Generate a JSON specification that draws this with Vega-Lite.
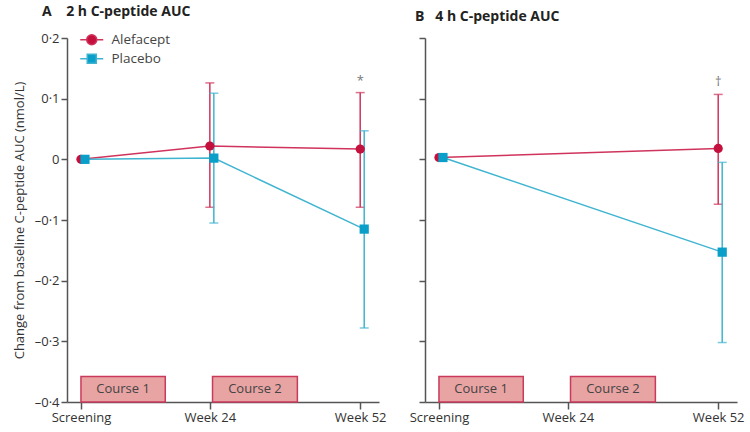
{
  "$schema": "https://vega.github.io/schema/vega-lite/v6.json",
  "padding": {"left": 13, "top": 5, "right": 5, "bottom": 5},
  "config": {
    "font": "Open Sans",
    "view": {"stroke": null},
    "axis": {
      "domainColor": "#555", "tickColor": "#555", "domainWidth": 1.5, "tickWidth": 1.5,
      "labelColor": "#333", "labelFontSize": 13, "labelFont": "Open Sans",
      "titleFontSize": 13, "titleFontWeight": "normal", "titleColor": "#333", "titleFont": "Open Sans",
      "grid": false
    },
    "concat": {"spacing": 22}
  },
  "datasets": {
    "pts": [
      {"panel": "A", "group": "Alefacept", "week": 0, "mean": 0, "lo": null, "hi": null, "note": null},
      {"panel": "A", "group": "Alefacept", "week": 24, "mean": 0.022, "lo": -0.079, "hi": 0.126, "note": null},
      {"panel": "A", "group": "Alefacept", "week": 52, "mean": 0.017, "lo": -0.079, "hi": 0.110, "note": "*"},
      {"panel": "A", "group": "Placebo", "week": 0, "mean": 0, "lo": null, "hi": null, "note": null},
      {"panel": "A", "group": "Placebo", "week": 24, "mean": 0.002, "lo": -0.105, "hi": 0.109, "note": null},
      {"panel": "A", "group": "Placebo", "week": 52, "mean": -0.115, "lo": -0.278, "hi": 0.047, "note": null},
      {"panel": "B", "group": "Alefacept", "week": 0, "mean": 0.003, "lo": null, "hi": null, "note": null},
      {"panel": "B", "group": "Alefacept", "week": 52, "mean": 0.018, "lo": -0.074, "hi": 0.107, "note": "†"},
      {"panel": "B", "group": "Placebo", "week": 0, "mean": 0.003, "lo": null, "hi": null, "note": null},
      {"panel": "B", "group": "Placebo", "week": 52, "mean": -0.153, "lo": -0.302, "hi": -0.005, "note": null}
    ],
    "courses": [
      {"panel": "A", "course": "Course 1", "start": 0, "end": 15.7, "mid": 7.85},
      {"panel": "A", "course": "Course 2", "start": 24.5, "end": 40.3, "mid": 32.4},
      {"panel": "B", "course": "Course 1", "start": 0, "end": 15.7, "mid": 7.85},
      {"panel": "B", "course": "Course 2", "start": 24.5, "end": 40.3, "mid": 32.4}
    ]
  },
  "hconcat": [
    {
      "width": 312, "height": 364,
      "title": {"text": "A\u00a0\u00a0\u00a0\u00a02 h C-peptide AUC", "anchor": "start", "frame": "group", "dx": -25, "fontSize": 14, "fontWeight": "bold", "color": "#222", "offset": 13, "font": "Open Sans"},
      "data": {"name": "pts"},
      "layer": [
        {
          "data": {"name": "courses"},
          "transform": [{"filter": "datum.panel === 'A'"}],
          "mark": {"type": "rect", "fill": "#e8a3a3", "stroke": "#c93a5c", "strokeWidth": 1.5},
          "encoding": {
            "x": {"field": "start", "type": "quantitative", "title": null, "scale": {"domain": [-2.6, 55.5], "nice": false, "zero": false}, "axis": {"values": [0, 24, 52], "labelExpr": "datum.value == 0 ? 'Screening' : 'Week ' + datum.value", "tickSize": 7, "labelPadding": 2}},
            "x2": {"field": "end"},
            "y": {"datum": -0.4, "type": "quantitative", "title": "Change from baseline C-peptide AUC (nmol/L)", "scale": {"domain": [-0.4, 0.2], "nice": false, "zero": false}, "axis": {"values": [-0.4, -0.3, -0.2, -0.1, 0, 0.1, 0.2], "labelExpr": "datum.value == 0 ? '0' : (datum.value < 0 ? '–' : '') + replace(format(abs(datum.value), '.1f'), '.', '·')", "tickSize": 6, "titlePadding": 8}},
            "y2": {"datum": -0.358}
          }
        },
        {
          "data": {"name": "courses"},
          "transform": [{"filter": "datum.panel === 'A'"}],
          "mark": {"type": "text", "fontSize": 13, "color": "#444", "font": "Open Sans"},
          "encoding": {
            "x": {"field": "mid", "type": "quantitative", "title": null},
            "y": {"datum": -0.379, "type": "quantitative", "title": "Change from baseline C-peptide AUC (nmol/L)"},
            "text": {"field": "course"}
          }
        },
        {
          "transform": [{"filter": "datum.panel === 'A' && datum.group === 'Alefacept' && isValid(datum.lo)"}],
          "mark": {"type": "rule", "color": "#d0345c", "strokeWidth": 1.5},
          "encoding": {
            "x": {"field": "week", "type": "quantitative", "title": null},
            "y": {"field": "lo", "type": "quantitative", "title": "Change from baseline C-peptide AUC (nmol/L)"},
            "y2": {"field": "hi"}
          }
        },
        {
          "transform": [{"filter": "datum.panel === 'A' && datum.group === 'Alefacept' && isValid(datum.lo)"}],
          "mark": {"type": "tick", "orient": "horizontal", "size": 9, "thickness": 1.5, "color": "#d0345c"},
          "encoding": {
            "x": {"field": "week", "type": "quantitative", "title": null},
            "y": {"field": "lo", "type": "quantitative", "title": "Change from baseline C-peptide AUC (nmol/L)"}
          }
        },
        {
          "transform": [{"filter": "datum.panel === 'A' && datum.group === 'Alefacept' && isValid(datum.lo)"}],
          "mark": {"type": "tick", "orient": "horizontal", "size": 9, "thickness": 1.5, "color": "#d0345c"},
          "encoding": {
            "x": {"field": "week", "type": "quantitative", "title": null},
            "y": {"field": "hi", "type": "quantitative", "title": "Change from baseline C-peptide AUC (nmol/L)"}
          }
        },
        {
          "transform": [{"filter": "datum.panel === 'A' && datum.group === 'Placebo' && isValid(datum.lo)"}],
          "mark": {"type": "rule", "color": "#3fb4d0", "strokeWidth": 1.5, "xOffset": 4},
          "encoding": {
            "x": {"field": "week", "type": "quantitative", "title": null},
            "y": {"field": "lo", "type": "quantitative", "title": "Change from baseline C-peptide AUC (nmol/L)"},
            "y2": {"field": "hi"}
          }
        },
        {
          "transform": [{"filter": "datum.panel === 'A' && datum.group === 'Placebo' && isValid(datum.lo)"}],
          "mark": {"type": "tick", "orient": "horizontal", "size": 9, "thickness": 1.5, "color": "#3fb4d0", "xOffset": 4},
          "encoding": {
            "x": {"field": "week", "type": "quantitative", "title": null},
            "y": {"field": "lo", "type": "quantitative", "title": "Change from baseline C-peptide AUC (nmol/L)"}
          }
        },
        {
          "transform": [{"filter": "datum.panel === 'A' && datum.group === 'Placebo' && isValid(datum.lo)"}],
          "mark": {"type": "tick", "orient": "horizontal", "size": 9, "thickness": 1.5, "color": "#3fb4d0", "xOffset": 4},
          "encoding": {
            "x": {"field": "week", "type": "quantitative", "title": null},
            "y": {"field": "hi", "type": "quantitative", "title": "Change from baseline C-peptide AUC (nmol/L)"}
          }
        },
        {
          "transform": [{"filter": "datum.panel === 'A' && datum.group === 'Alefacept'"}],
          "mark": {"type": "line", "strokeWidth": 1.5},
          "encoding": {
            "x": {"field": "week", "type": "quantitative", "title": null},
            "y": {"field": "mean", "type": "quantitative", "title": "Change from baseline C-peptide AUC (nmol/L)"},
            "color": {
              "datum": "Alefacept", "type": "nominal",
              "scale": {"domain": ["Alefacept", "Placebo"], "range": ["#d0345c", "#3fb4d0"]},
              "legend": {
                "title": null, "orient": "none", "legendX": 18, "legendY": -5,
                "labelFontSize": 13.5, "labelColor": "#444", "labelFont": "Open Sans",
                "symbolSize": 100, "rowPadding": 3, "labelOffset": 13, "symbolStrokeWidth": 1.5,
                "encode": {"symbols": {"update": {
                  "shape": {"signal": "datum.value === 'Alefacept' ? 'M-2.3,0L-1,0M1,0L2.3,0M1,0A1,1,0,1,1,-1,0A1,1,0,1,1,1,0Z' : 'M-2.3,0L-0.9,0M0.9,0L2.3,0M-0.9,-0.9H0.9V0.9H-0.9Z'"},
                  "fill": {"signal": "datum.value === 'Alefacept' ? '#c4103c' : '#0a9fc8'"},
                  "fillOpacity": {"value": 1},
                  "opacity": {"value": 1}
                }}}
              }
            }
          }
        },
        {
          "transform": [{"filter": "datum.panel === 'A' && datum.group === 'Placebo'"}],
          "mark": {"type": "line", "strokeWidth": 1.5, "xOffset": 4},
          "encoding": {
            "x": {"field": "week", "type": "quantitative", "title": null},
            "y": {"field": "mean", "type": "quantitative", "title": "Change from baseline C-peptide AUC (nmol/L)"},
            "color": {"datum": "Placebo", "type": "nominal"}
          }
        },
        {
          "transform": [{"filter": "datum.panel === 'A' && datum.group === 'Alefacept'"}],
          "mark": {"type": "point", "shape": "circle", "filled": true, "size": 85, "color": "#c4103c", "opacity": 1},
          "encoding": {
            "x": {"field": "week", "type": "quantitative", "title": null},
            "y": {"field": "mean", "type": "quantitative", "title": "Change from baseline C-peptide AUC (nmol/L)"}
          }
        },
        {
          "transform": [{"filter": "datum.panel === 'A' && datum.group === 'Placebo'"}],
          "mark": {"type": "point", "shape": "square", "filled": true, "size": 85, "color": "#0a9fc8", "opacity": 1, "xOffset": 4},
          "encoding": {
            "x": {"field": "week", "type": "quantitative", "title": null},
            "y": {"field": "mean", "type": "quantitative", "title": "Change from baseline C-peptide AUC (nmol/L)"}
          }
        },
        {
          "transform": [{"filter": "datum.panel === 'A' && isValid(datum.note)"}],
          "mark": {"type": "text", "dy": -12, "fontSize": 13, "color": "#777", "font": "Open Sans"},
          "encoding": {
            "x": {"field": "week", "type": "quantitative", "title": null},
            "y": {"field": "hi", "type": "quantitative", "title": "Change from baseline C-peptide AUC (nmol/L)"},
            "text": {"field": "note"}
          }
        }
      ]
    },
    {
      "width": 312, "height": 364,
      "title": {"text": "B\u00a0\u00a0\u00a04 h C-peptide AUC", "anchor": "start", "frame": "group", "dx": -10, "fontSize": 14, "fontWeight": "bold", "color": "#222", "offset": 13, "font": "Open Sans"},
      "data": {"name": "pts"},
      "layer": [
        {
          "data": {"name": "courses"},
          "transform": [{"filter": "datum.panel === 'B'"}],
          "mark": {"type": "rect", "fill": "#e8a3a3", "stroke": "#c93a5c", "strokeWidth": 1.5},
          "encoding": {
            "x": {"field": "start", "type": "quantitative", "title": null, "scale": {"domain": [-2.6, 55.5], "nice": false, "zero": false}, "axis": {"values": [0, 24, 52], "labelExpr": "datum.value == 0 ? 'Screening' : 'Week ' + datum.value", "tickSize": 7, "labelPadding": 2}},
            "x2": {"field": "end"},
            "y": {"datum": -0.4, "type": "quantitative", "title": null, "scale": {"domain": [-0.4, 0.2], "nice": false, "zero": false}, "axis": {"values": [-0.4, -0.3, -0.2, -0.1, 0, 0.1, 0.2], "labels": false, "tickSize": 6}},
            "y2": {"datum": -0.358}
          }
        },
        {
          "data": {"name": "courses"},
          "transform": [{"filter": "datum.panel === 'B'"}],
          "mark": {"type": "text", "fontSize": 13, "color": "#444", "font": "Open Sans"},
          "encoding": {
            "x": {"field": "mid", "type": "quantitative", "title": null},
            "y": {"datum": -0.379, "type": "quantitative", "title": null},
            "text": {"field": "course"}
          }
        },
        {
          "transform": [{"filter": "datum.panel === 'B' && datum.group === 'Alefacept' && isValid(datum.lo)"}],
          "mark": {"type": "rule", "color": "#d0345c", "strokeWidth": 1.5},
          "encoding": {
            "x": {"field": "week", "type": "quantitative", "title": null},
            "y": {"field": "lo", "type": "quantitative", "title": null},
            "y2": {"field": "hi"}
          }
        },
        {
          "transform": [{"filter": "datum.panel === 'B' && datum.group === 'Alefacept' && isValid(datum.lo)"}],
          "mark": {"type": "tick", "orient": "horizontal", "size": 9, "thickness": 1.5, "color": "#d0345c"},
          "encoding": {
            "x": {"field": "week", "type": "quantitative", "title": null},
            "y": {"field": "lo", "type": "quantitative", "title": null}
          }
        },
        {
          "transform": [{"filter": "datum.panel === 'B' && datum.group === 'Alefacept' && isValid(datum.lo)"}],
          "mark": {"type": "tick", "orient": "horizontal", "size": 9, "thickness": 1.5, "color": "#d0345c"},
          "encoding": {
            "x": {"field": "week", "type": "quantitative", "title": null},
            "y": {"field": "hi", "type": "quantitative", "title": null}
          }
        },
        {
          "transform": [{"filter": "datum.panel === 'B' && datum.group === 'Placebo' && isValid(datum.lo)"}],
          "mark": {"type": "rule", "color": "#3fb4d0", "strokeWidth": 1.5, "xOffset": 4},
          "encoding": {
            "x": {"field": "week", "type": "quantitative", "title": null},
            "y": {"field": "lo", "type": "quantitative", "title": null},
            "y2": {"field": "hi"}
          }
        },
        {
          "transform": [{"filter": "datum.panel === 'B' && datum.group === 'Placebo' && isValid(datum.lo)"}],
          "mark": {"type": "tick", "orient": "horizontal", "size": 9, "thickness": 1.5, "color": "#3fb4d0", "xOffset": 4},
          "encoding": {
            "x": {"field": "week", "type": "quantitative", "title": null},
            "y": {"field": "lo", "type": "quantitative", "title": null}
          }
        },
        {
          "transform": [{"filter": "datum.panel === 'B' && datum.group === 'Placebo' && isValid(datum.lo)"}],
          "mark": {"type": "tick", "orient": "horizontal", "size": 9, "thickness": 1.5, "color": "#3fb4d0", "xOffset": 4},
          "encoding": {
            "x": {"field": "week", "type": "quantitative", "title": null},
            "y": {"field": "hi", "type": "quantitative", "title": null}
          }
        },
        {
          "transform": [{"filter": "datum.panel === 'B' && datum.group === 'Alefacept'"}],
          "mark": {"type": "line", "strokeWidth": 1.5},
          "encoding": {
            "x": {"field": "week", "type": "quantitative", "title": null},
            "y": {"field": "mean", "type": "quantitative", "title": null},
            "color": {"datum": "Alefacept", "type": "nominal"}
          }
        },
        {
          "transform": [{"filter": "datum.panel === 'B' && datum.group === 'Placebo'"}],
          "mark": {"type": "line", "strokeWidth": 1.5, "xOffset": 4},
          "encoding": {
            "x": {"field": "week", "type": "quantitative", "title": null},
            "y": {"field": "mean", "type": "quantitative", "title": null},
            "color": {"datum": "Placebo", "type": "nominal"}
          }
        },
        {
          "transform": [{"filter": "datum.panel === 'B' && datum.group === 'Alefacept'"}],
          "mark": {"type": "point", "shape": "circle", "filled": true, "size": 85, "color": "#c4103c", "opacity": 1},
          "encoding": {
            "x": {"field": "week", "type": "quantitative", "title": null},
            "y": {"field": "mean", "type": "quantitative", "title": null}
          }
        },
        {
          "transform": [{"filter": "datum.panel === 'B' && datum.group === 'Placebo'"}],
          "mark": {"type": "point", "shape": "square", "filled": true, "size": 85, "color": "#0a9fc8", "opacity": 1, "xOffset": 4},
          "encoding": {
            "x": {"field": "week", "type": "quantitative", "title": null},
            "y": {"field": "mean", "type": "quantitative", "title": null}
          }
        },
        {
          "transform": [{"filter": "datum.panel === 'B' && isValid(datum.note)"}],
          "mark": {"type": "text", "dy": -12, "fontSize": 13, "color": "#777", "font": "Open Sans"},
          "encoding": {
            "x": {"field": "week", "type": "quantitative", "title": null},
            "y": {"field": "hi", "type": "quantitative", "title": null},
            "text": {"field": "note"}
          }
        }
      ]
    }
  ]
}
